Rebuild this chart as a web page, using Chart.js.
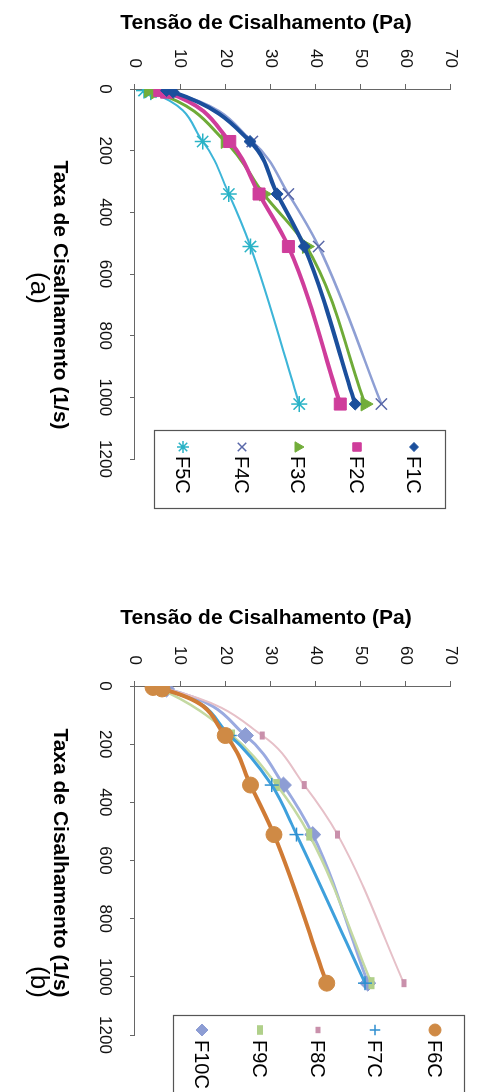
<!DOCTYPE html>
<html><head><meta charset="utf-8">
<script src="https://cdn.jsdelivr.net/npm/chart.js@4.4.1/dist/chart.umd.min.js"></script>
<style>
html,body{margin:0;padding:0;background:#fff;}
body{width:477px;height:1092px;overflow:hidden;position:relative;}
.rot{position:absolute;transform-origin:0 0;}
canvas{display:block;}
</style></head><body>
<div class="rot" style="left:20px;top:0px;width:546px;height:457px;transform:translateX(457px) rotate(90deg)"><canvas id="ca" width="546" height="457"></canvas></div>
<div class="rot" style="left:20px;top:546px;width:546px;height:457px;transform:translateX(457px) rotate(90deg)"><canvas id="cb" width="546" height="457"></canvas></div>
<script>
// ---- data ----
const rates = [5.11, 10.22, 170.3, 340.6, 510.9, 1021.8];
const xTickValues = [0, 200, 400, 600, 800, 1000, 1200];
const yTickValues = [0, 10, 20, 30, 40, 50, 60, 70];
const xTitle = 'Taxa de Cisalhamento (1/s)';
const yTitle = 'Tensão de Cisalhamento (Pa)';

const namesA = ['F1C', 'F2C', 'F3C', 'F4C', 'F5C'];
const F1C = [7, 8.5, 25.5, 31.5, 37.5, 48.8];
const F2C = [5.5, 7, 21, 27.5, 34, 45.5];
const F3C = [3, 4.5, 20, 28.5, 38, 51];
const F4C = [6, 8, 26, 34, 40.7, 54.6];
const F5C = [2, 3.5, 15, 20.8, 25.6, 36.4];

const namesB = ['F6C', 'F7C', 'F8C', 'F9C', 'F10C'];
const F6C = [4, 6, 20, 25.6, 30.8, 42.5];
const F7C = [4, 6, 21, 30.3, 35.8, 51];
const F8C = [5, 7, 28.2, 37.5, 44.9, 59.6];
const F9C = [4.5, 5.5, 21.5, 31.4, 38.6, 52.4];
const F10C = [5, 7, 24.5, 32.9, 39.4, 51.6];

// ---- styles ----
const FONT = '"Liberation Sans", Arial, sans-serif';
const stylesA = [
  {line:'#1b4f9c', lw:4, ps:'rectRot', r:6, fill:'#1b4f9c', stroke:'#1b4f9c', pbw:1},
  {line:'#cf3d9b', lw:4, ps:'rect', r:8.5, fill:'#cf3d9b', stroke:'#cf3d9b', pbw:1},
  {line:'#6fab38', lw:3, ps:'triangle', r:8, fill:'#72ad3a', stroke:'#72ad3a', pbw:1},
  {line:'#8e9fd4', lw:2.5, ps:'crossRot', r:8, fill:'#5867a8', stroke:'#5867a8', pbw:1.5},
  {line:'#3db5d8', lw:2, ps:'star', r:8, fill:'#2ab3c6', stroke:'#2ab3c6', pbw:1.5}
];
const stylesB = [
  {line:'#d07b35', lw:4, ps:'circle', r:8, fill:'#cf8a45', stroke:'#cf8a45', pbw:1},
  {line:'#3ea0dc', lw:3, ps:'cross', r:7, fill:'#2f8fd0', stroke:'#2f8fd0', pbw:1.5},
  {line:'#e6c0c8', lw:2, ps:'line', r:4, fill:'#c990ab', stroke:'#c990ab', pbw:5},
  {line:'#c4d9a2', lw:2.5, ps:'line', r:6, fill:'#b0d08a', stroke:'#b0d08a', pbw:6},
  {line:'#9aaae0', lw:3, ps:'rectRot', r:8, fill:'#8d9dd4', stroke:'#8d9dd4', pbw:1}
];

function makeDatasets(names, values, styles){
  return names.map((n, i) => {
    const s = styles[i];
    return {
      label: n,
      data: rates.map((r, j) => ({x: r, y: values[i][j]})),
      borderColor: s.line, backgroundColor: s.fill, borderWidth: s.lw,
      pointStyle: s.ps, pointRadius: s.r, pointBackgroundColor: s.fill,
      pointBorderColor: s.stroke, pointBorderWidth: s.pbw,
      cubicInterpolationMode: 'monotone', fill: false, _legend: s
    };
  });
}

const decor = {
  id: 'decor',
  afterDraw(chart, args, g) {
    const ctx = chart.ctx;
    ctx.save();
    ctx.fillStyle = '#000';
    ctx.textAlign = 'center';
    ctx.textBaseline = 'middle';
    ctx.save();
    ctx.translate(g.yT[0], g.yT[1]);
    ctx.rotate(-Math.PI / 2);
    ctx.font = 'bold 21px ' + FONT;
    ctx.fillText(yTitle, 0, 0);
    ctx.restore();
    ctx.font = 'bold 21px ' + FONT;
    ctx.fillText(xTitle, g.xT[0], g.xT[1]);
    ctx.font = '26px ' + FONT;
    ctx.fillText(g.cap, g.capP[0], g.capP[1]);
    const L = g.leg;
    ctx.fillStyle = '#fff';
    ctx.fillRect(L.box[0], L.box[1], L.box[2], L.box[3]);
    ctx.strokeStyle = '#555';
    ctx.lineWidth = 1.2;
    ctx.strokeRect(L.box[0] + 0.5, L.box[1] + 0.5, L.box[2], L.box[3]);
    chart.data.datasets.forEach((ds, i) => {
      const s = ds._legend;
      const v = L.items[i];
      ctx.save();
      ctx.fillStyle = s.fill;
      ctx.strokeStyle = s.stroke;
      ctx.lineWidth = s.pbw;
      const rr = s.ps === 'line' ? s.r * 0.8 : Math.min(s.r * 0.75, 6);
      if (Chart.helpers && Chart.helpers.drawPoint) {
        Chart.helpers.drawPoint(ctx, {pointStyle: s.ps, radius: rr, borderWidth: s.ps === 'line' ? s.pbw * 0.8 : s.pbw, rotation: 0}, L.mu, v);
      } else {
        ctx.beginPath(); ctx.arc(L.mu, v, rr, 0, Math.PI * 2); ctx.fill();
      }
      ctx.restore();
      ctx.fillStyle = '#000';
      ctx.textAlign = 'left';
      ctx.textBaseline = 'middle';
      ctx.font = '20px ' + FONT;
      ctx.fillText(ds.label, L.tu, v + 1);
    });
    ctx.restore();
  }
};

function makeChart(id, names, values, styles, g) {
  return new Chart(document.getElementById(id), {
    type: 'line',
    data: {datasets: makeDatasets(names, values, styles)},
    options: {
      responsive: false, animation: false, devicePixelRatio: 1,
      layout: {padding: {left: 0, top: g.top, right: g.right, bottom: 0}},
      plugins: {legend: {display: false}, tooltip: {enabled: false}, decor: g},
      scales: {
        x: {
          type: 'linear', min: 0, max: 1200,
          afterBuildTicks(s) { s.ticks = xTickValues.map(v => ({value: v})); },
          ticks: {font: {family: FONT, size: 17}, color: '#111', padding: g.xPad, maxRotation: 0, autoSkip: false, callback: v => String(v)},
          grid: {drawOnChartArea: false, drawTicks: true, tickLength: 5, color: '#666', lineWidth: 1},
          border: {display: true, color: '#666', width: 1},
          afterFit(s) { s.height = g.xH; }
        },
        y: {
          type: 'linear', min: 0, max: 70,
          afterBuildTicks(s) { s.ticks = yTickValues.map(v => ({value: v})); },
          ticks: {font: {family: FONT, size: 17}, color: '#111', padding: g.yPad, autoSkip: false, callback: v => String(v)},
          grid: {drawOnChartArea: false, drawTicks: true, tickLength: 5, color: '#666', lineWidth: 1},
          border: {display: true, color: '#666', width: 1},
          afterFit(s) { s.width = g.yW; }
        }
      }
    },
    plugins: [decor]
  });
}

makeChart('ca', namesA, [F1C, F2C, F3C, F4C, F5C], stylesA, {
  top: 19, right: 87, yW: 89, xH: 115, xPad: 15, yPad: 16,
  yT: [23, 211], xT: [295, 417], cap: '(a)', capP: [288, 439],
  leg: {box: [430, 31, 78, 291], items: [63, 120, 179, 235, 294], mu: 447, tu: 456}
});
makeChart('cb', namesB, [F6C, F7C, F8C, F9C, F10C], stylesB, {
  top: 19, right: 57, yW: 140, xH: 115, xPad: 15, yPad: 16,
  yT: [72, 211], xT: [317, 417], cap: '(b)', capP: [436, 439],
  leg: {box: [469, 12, 78, 291], items: [42, 102, 159, 217, 275], mu: 484, tu: 494}
});
</script>
</body></html>
